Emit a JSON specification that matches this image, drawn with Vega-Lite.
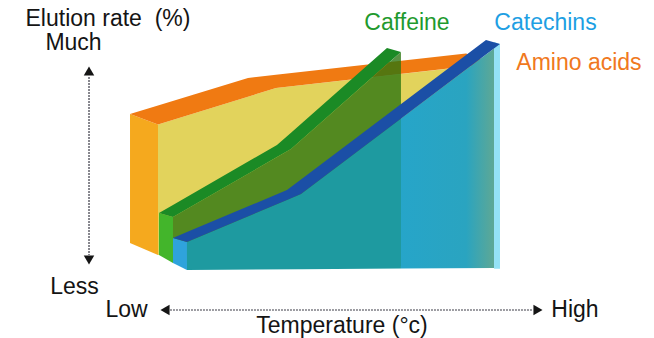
{
  "$schema": "https://vega.github.io/schema/vega-lite/v6.json",
  "width": 654,
  "height": 338,
  "padding": 0,
  "autosize": {"type": "fit", "contains": "padding"},
  "background": "white",
  "config": {"view": {"stroke": null}},
  "datasets": {
    "faces": [
      {"part": "orangeSide", "x": 19.88, "top": 66.27, "bottom": 28.11},
      {"part": "orangeSide", "x": 24.16, "top": 63.17, "bottom": 24.56},
      {"part": "yellow", "x": 24.16, "top": 63.17, "bottom": 24.56},
      {"part": "yellow", "x": 42.20, "top": 73.96, "bottom": 23.82},
      {"part": "yellow", "x": 75.54, "top": 81.24, "bottom": 22.49},
      {"part": "orangeTop", "x": 19.88, "top": 66.27, "bottom": 66.27},
      {"part": "orangeTop", "x": 24.16, "top": 68.80, "bottom": 63.17},
      {"part": "orangeTop", "x": 37.92, "top": 76.92, "bottom": 71.40},
      {"part": "orangeTop", "x": 42.20, "top": 77.86, "bottom": 73.96},
      {"part": "orangeTop", "x": 71.25, "top": 84.20, "bottom": 80.31},
      {"part": "orangeTop", "x": 75.54, "top": 81.24, "bottom": 81.24},
      {"part": "greenSide", "x": 24.31, "top": 36.98, "bottom": 24.56},
      {"part": "greenSide", "x": 26.45, "top": 35.80, "bottom": 22.19},
      {"part": "olive", "x": 26.45, "top": 35.80, "bottom": 22.19},
      {"part": "olive", "x": 44.50, "top": 55.92, "bottom": 21.60},
      {"part": "olive", "x": 61.31, "top": 84.62, "bottom": 21.30},
      {"part": "tealLeft", "x": 28.59, "top": 28.40, "bottom": 20.12},
      {"part": "tealLeft", "x": 46.02, "top": 42.60, "bottom": 20.34},
      {"part": "tealLeft", "x": 61.31, "top": 64.91, "bottom": 20.53},
      {"part": "tealRight", "x": 61.31, "top": 64.91, "bottom": 20.53},
      {"part": "tealRight", "x": 75.54, "top": 85.65, "bottom": 20.71},
      {"part": "lightCyan", "x": 75.54, "top": 87.57, "bottom": 20.50},
      {"part": "lightCyan", "x": 76.45, "top": 86.98, "bottom": 20.50},
      {"part": "cyanSide", "x": 26.45, "top": 29.59, "bottom": 22.19},
      {"part": "cyanSide", "x": 28.59, "top": 28.40, "bottom": 20.12},
      {"part": "greenStrip", "x": 24.31, "top": 36.98, "bottom": 36.98},
      {"part": "greenStrip", "x": 26.45, "top": 39.37, "bottom": 35.80},
      {"part": "greenStrip", "x": 42.35, "top": 57.10, "bottom": 53.53},
      {"part": "greenStrip", "x": 44.50, "top": 60.75, "bottom": 55.92},
      {"part": "greenStrip", "x": 59.17, "top": 85.80, "bottom": 80.96},
      {"part": "greenStrip", "x": 61.31, "top": 84.62, "bottom": 84.62},
      {"part": "blueStrip", "x": 26.45, "top": 29.59, "bottom": 29.59},
      {"part": "blueStrip", "x": 28.59, "top": 31.33, "bottom": 28.40},
      {"part": "blueStrip", "x": 43.88, "top": 43.79, "bottom": 40.86},
      {"part": "blueStrip", "x": 46.02, "top": 46.91, "bottom": 42.60},
      {"part": "blueStrip", "x": 74.31, "top": 88.17, "bottom": 83.86},
      {"part": "blueStrip", "x": 76.45, "top": 86.98, "bottom": 86.98}
    ],
    "shafts": [
      {"x": 13.61, "y": 77.22, "x2": 13.61, "y2": 24.56},
      {"x": 25.99, "y": 8.28, "x2": 81.50, "y2": 8.28}
    ],
    "heads": [
      {"dir": "up", "x": 13.61, "y": 78.99},
      {"dir": "down", "x": 13.61, "y": 23.08},
      {"dir": "left", "x": 25.23, "y": 8.28},
      {"dir": "right", "x": 82.26, "y": 8.28}
    ],
    "labels": [
      {"label": "Elution rate\u00a0 (%)", "group": "axis", "x": 16.51, "y": 92.31},
      {"label": "Much", "group": "axis", "x": 11.24, "y": 85.21},
      {"label": "Less", "group": "axis", "x": 11.39, "y": 13.02},
      {"label": "Low", "group": "axis", "x": 19.34, "y": 6.21},
      {"label": "High", "group": "axis", "x": 87.92, "y": 6.21},
      {"label": "Temperature (°c)", "group": "axis", "x": 52.29, "y": 1.48},
      {"label": "Caffeine", "group": "Caffeine", "x": 62.23, "y": 91.12},
      {"label": "Catechins", "group": "Catechins", "x": 83.41, "y": 91.12},
      {"label": "Amino acids", "group": "Amino acids", "x": 88.53, "y": 79.29}
    ]
  },
  "encoding": {
    "x": {"field": "x", "type": "quantitative", "scale": {"domain": [0, 100], "nice": false, "zero": false}, "axis": null},
    "y": {"field": "y", "type": "quantitative", "scale": {"domain": [0, 100], "nice": false, "zero": false}, "axis": null}
  },
  "layer": [
    {"data": {"name": "faces"}, "transform": [{"filter": "datum.part === 'orangeSide'"}],
     "mark": {"type": "area", "color": "#F5A91E", "interpolate": "linear"},
     "encoding": {"y": {"field": "top", "type": "quantitative"}, "y2": {"field": "bottom"}}},
    {"data": {"name": "faces"}, "transform": [{"filter": "datum.part === 'yellow'"}],
     "mark": {"type": "area", "color": "#E2D35C", "interpolate": "linear"},
     "encoding": {"y": {"field": "top", "type": "quantitative"}, "y2": {"field": "bottom"}}},
    {"data": {"name": "faces"}, "transform": [{"filter": "datum.part === 'orangeTop'"}],
     "mark": {"type": "area", "color": "#F07A12", "interpolate": "linear"},
     "encoding": {"y": {"field": "top", "type": "quantitative"}, "y2": {"field": "bottom"}}},
    {"data": {"name": "faces"}, "transform": [{"filter": "datum.part === 'greenSide'"}],
     "mark": {"type": "area", "color": "#43B52B", "interpolate": "linear"},
     "encoding": {"y": {"field": "top", "type": "quantitative"}, "y2": {"field": "bottom"}}},
    {"data": {"name": "faces"}, "transform": [{"filter": "datum.part === 'olive'"}],
     "mark": {"type": "area", "color": "#2A7410", "opacity": 0.78, "interpolate": "linear"},
     "encoding": {"y": {"field": "top", "type": "quantitative"}, "y2": {"field": "bottom"}}},
    {"data": {"name": "faces"}, "transform": [{"filter": "datum.part === 'tealLeft'"}],
     "mark": {"type": "area", "color": "#1E9AA0", "interpolate": "linear"},
     "encoding": {"y": {"field": "top", "type": "quantitative"}, "y2": {"field": "bottom"}}},
    {"data": {"name": "faces"}, "transform": [{"filter": "datum.part === 'tealRight'"}],
     "mark": {"type": "area", "interpolate": "linear",
       "fill": {"gradient": "linear", "x1": 0, "y1": 0, "x2": 1, "y2": 0,
         "stops": [{"offset": 0, "color": "#26A5C9"}, {"offset": 0.7, "color": "#2AA4C0"}, {"offset": 1, "color": "#5EA895"}]}},
     "encoding": {"y": {"field": "top", "type": "quantitative"}, "y2": {"field": "bottom"}}},
    {"data": {"name": "faces"}, "transform": [{"filter": "datum.part === 'lightCyan'"}],
     "mark": {"type": "area", "color": "#94E2F6", "interpolate": "linear"},
     "encoding": {"y": {"field": "top", "type": "quantitative"}, "y2": {"field": "bottom"}}},
    {"data": {"name": "faces"}, "transform": [{"filter": "datum.part === 'cyanSide'"}],
     "mark": {"type": "area", "color": "#2FA3DC", "interpolate": "linear"},
     "encoding": {"y": {"field": "top", "type": "quantitative"}, "y2": {"field": "bottom"}}},
    {"data": {"name": "faces"}, "transform": [{"filter": "datum.part === 'greenStrip'"}],
     "mark": {"type": "area", "color": "#1B8A25", "interpolate": "linear"},
     "encoding": {"y": {"field": "top", "type": "quantitative"}, "y2": {"field": "bottom"}}},
    {"data": {"name": "faces"}, "transform": [{"filter": "datum.part === 'blueStrip'"}],
     "mark": {"type": "area", "color": "#1B4FA6", "interpolate": "linear"},
     "encoding": {"y": {"field": "top", "type": "quantitative"}, "y2": {"field": "bottom"}}},
    {"data": {"name": "shafts"},
     "mark": {"type": "rule", "color": "#3A3A45", "strokeWidth": 1.2, "strokeDash": [2, 1]},
     "encoding": {"x2": {"field": "x2"}, "y2": {"field": "y2"}}},
    {"data": {"name": "heads"},
     "mark": {"type": "point", "filled": true, "color": "#151515", "opacity": 1, "size": 110},
     "encoding": {"shape": {"field": "dir", "type": "nominal", "legend": null,
       "scale": {"domain": ["up", "down", "left", "right"], "range": ["triangle-up", "triangle-down", "triangle-left", "triangle-right"]}}}},
    {"data": {"name": "labels"},
     "mark": {"type": "text", "font": "Liberation Sans", "fontSize": 23, "align": "center", "baseline": "alphabetic"},
     "encoding": {"text": {"field": "label"},
       "color": {"field": "group", "type": "nominal", "legend": null,
         "scale": {"domain": ["axis", "Caffeine", "Catechins", "Amino acids"], "range": ["#141414", "#1F9A2E", "#1E9FE3", "#F07820"]}}}}
  ]
}
